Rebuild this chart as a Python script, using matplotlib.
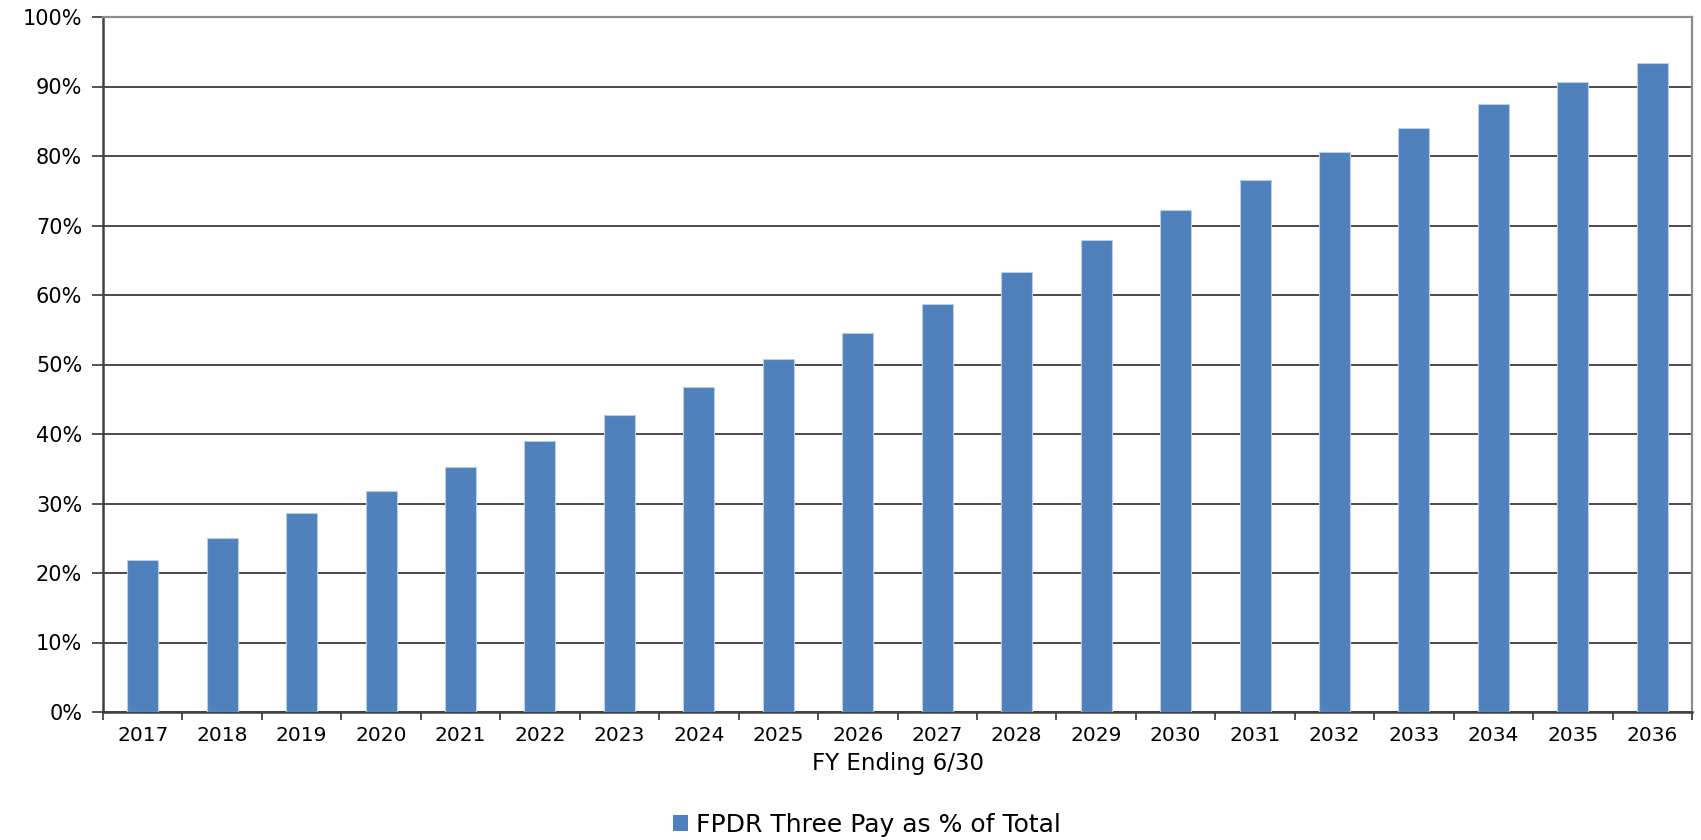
import numpy as np
import matplotlib.pyplot as plt
from matplotlib.ticker import FuncFormatter
from matplotlib.patches import Patch

plt.rcParams['font.family'] = ['DejaVu Sans']

years = ['2017', '2018', '2019', '2020', '2021', '2022', '2023', '2024', '2025', '2026',
         '2027', '2028', '2029', '2030', '2031', '2032', '2033', '2034', '2035', '2036']
three_pay_pct = [21.9, 25.1, 28.6, 31.8, 35.2, 39.0, 42.8, 46.8, 50.8, 54.6,
                 58.7, 63.3, 67.9, 72.3, 76.6, 80.6, 84.0, 87.5, 90.7, 93.4]
series_name = 'FPDR Three Pay as % of Total'
bar_color = '#4f81bd'

W, H = 1701, 840
fig = plt.figure(figsize=(W / 100, H / 100), dpi=100)
ax = fig.add_axes([103 / W, (H - 712) / H, (1692 - 103) / W, (712 - 17) / H])

x = np.arange(len(years))
ax.bar(x, three_pay_pct, width=0.39, color=bar_color, edgecolor='#b8cce4',
       linewidth=0.8, zorder=3)

ax.set_xlim(-0.5, len(years) - 0.5)
ax.set_ylim(0, 100)

# horizontal gridlines every 10%
ax.set_yticks(np.arange(0, 101, 10))
ax.yaxis.set_major_formatter(FuncFormatter(lambda v, p: f'{v:.0f}%'))
ax.grid(axis='y', color='#1a1a1a', linewidth=1.1, zorder=1)
ax.set_axisbelow(True)

# tick marks between categories, labels centred on bars
ax.set_xticks(np.arange(-0.5, len(years), 1))
ax.set_xticklabels([])
ax.set_xticks(x, minor=True)
ax.set_xticklabels(years, minor=True)
ax.tick_params(axis='x', which='major', direction='out', length=6, width=1.2,
               color='#333333')
ax.tick_params(axis='x', which='minor', length=0, pad=10, labelsize=14.5)
ax.tick_params(axis='y', direction='out', length=8, width=1.2, color='#333333',
               pad=7, labelsize=15)

for side in ('left', 'bottom'):
    ax.spines[side].set_color('#404040')
    ax.spines[side].set_linewidth(1.8)
for side in ('top', 'right'):
    ax.spines[side].set_color('#8c8c8c')
    ax.spines[side].set_linewidth(1.6)

ax.set_xlabel('FY Ending 6/30', fontsize=16.5, labelpad=5)

handle = Patch(facecolor=bar_color, edgecolor='none')
fig.legend([handle], [series_name], loc='center',
           bbox_to_anchor=(867 / W, 1 - 825 / H), frameon=False, fontsize=18,
           handlelength=0.6, handleheight=0.6, handletextpad=0.3)

fig.savefig('out.png', dpi=100, facecolor='white')
